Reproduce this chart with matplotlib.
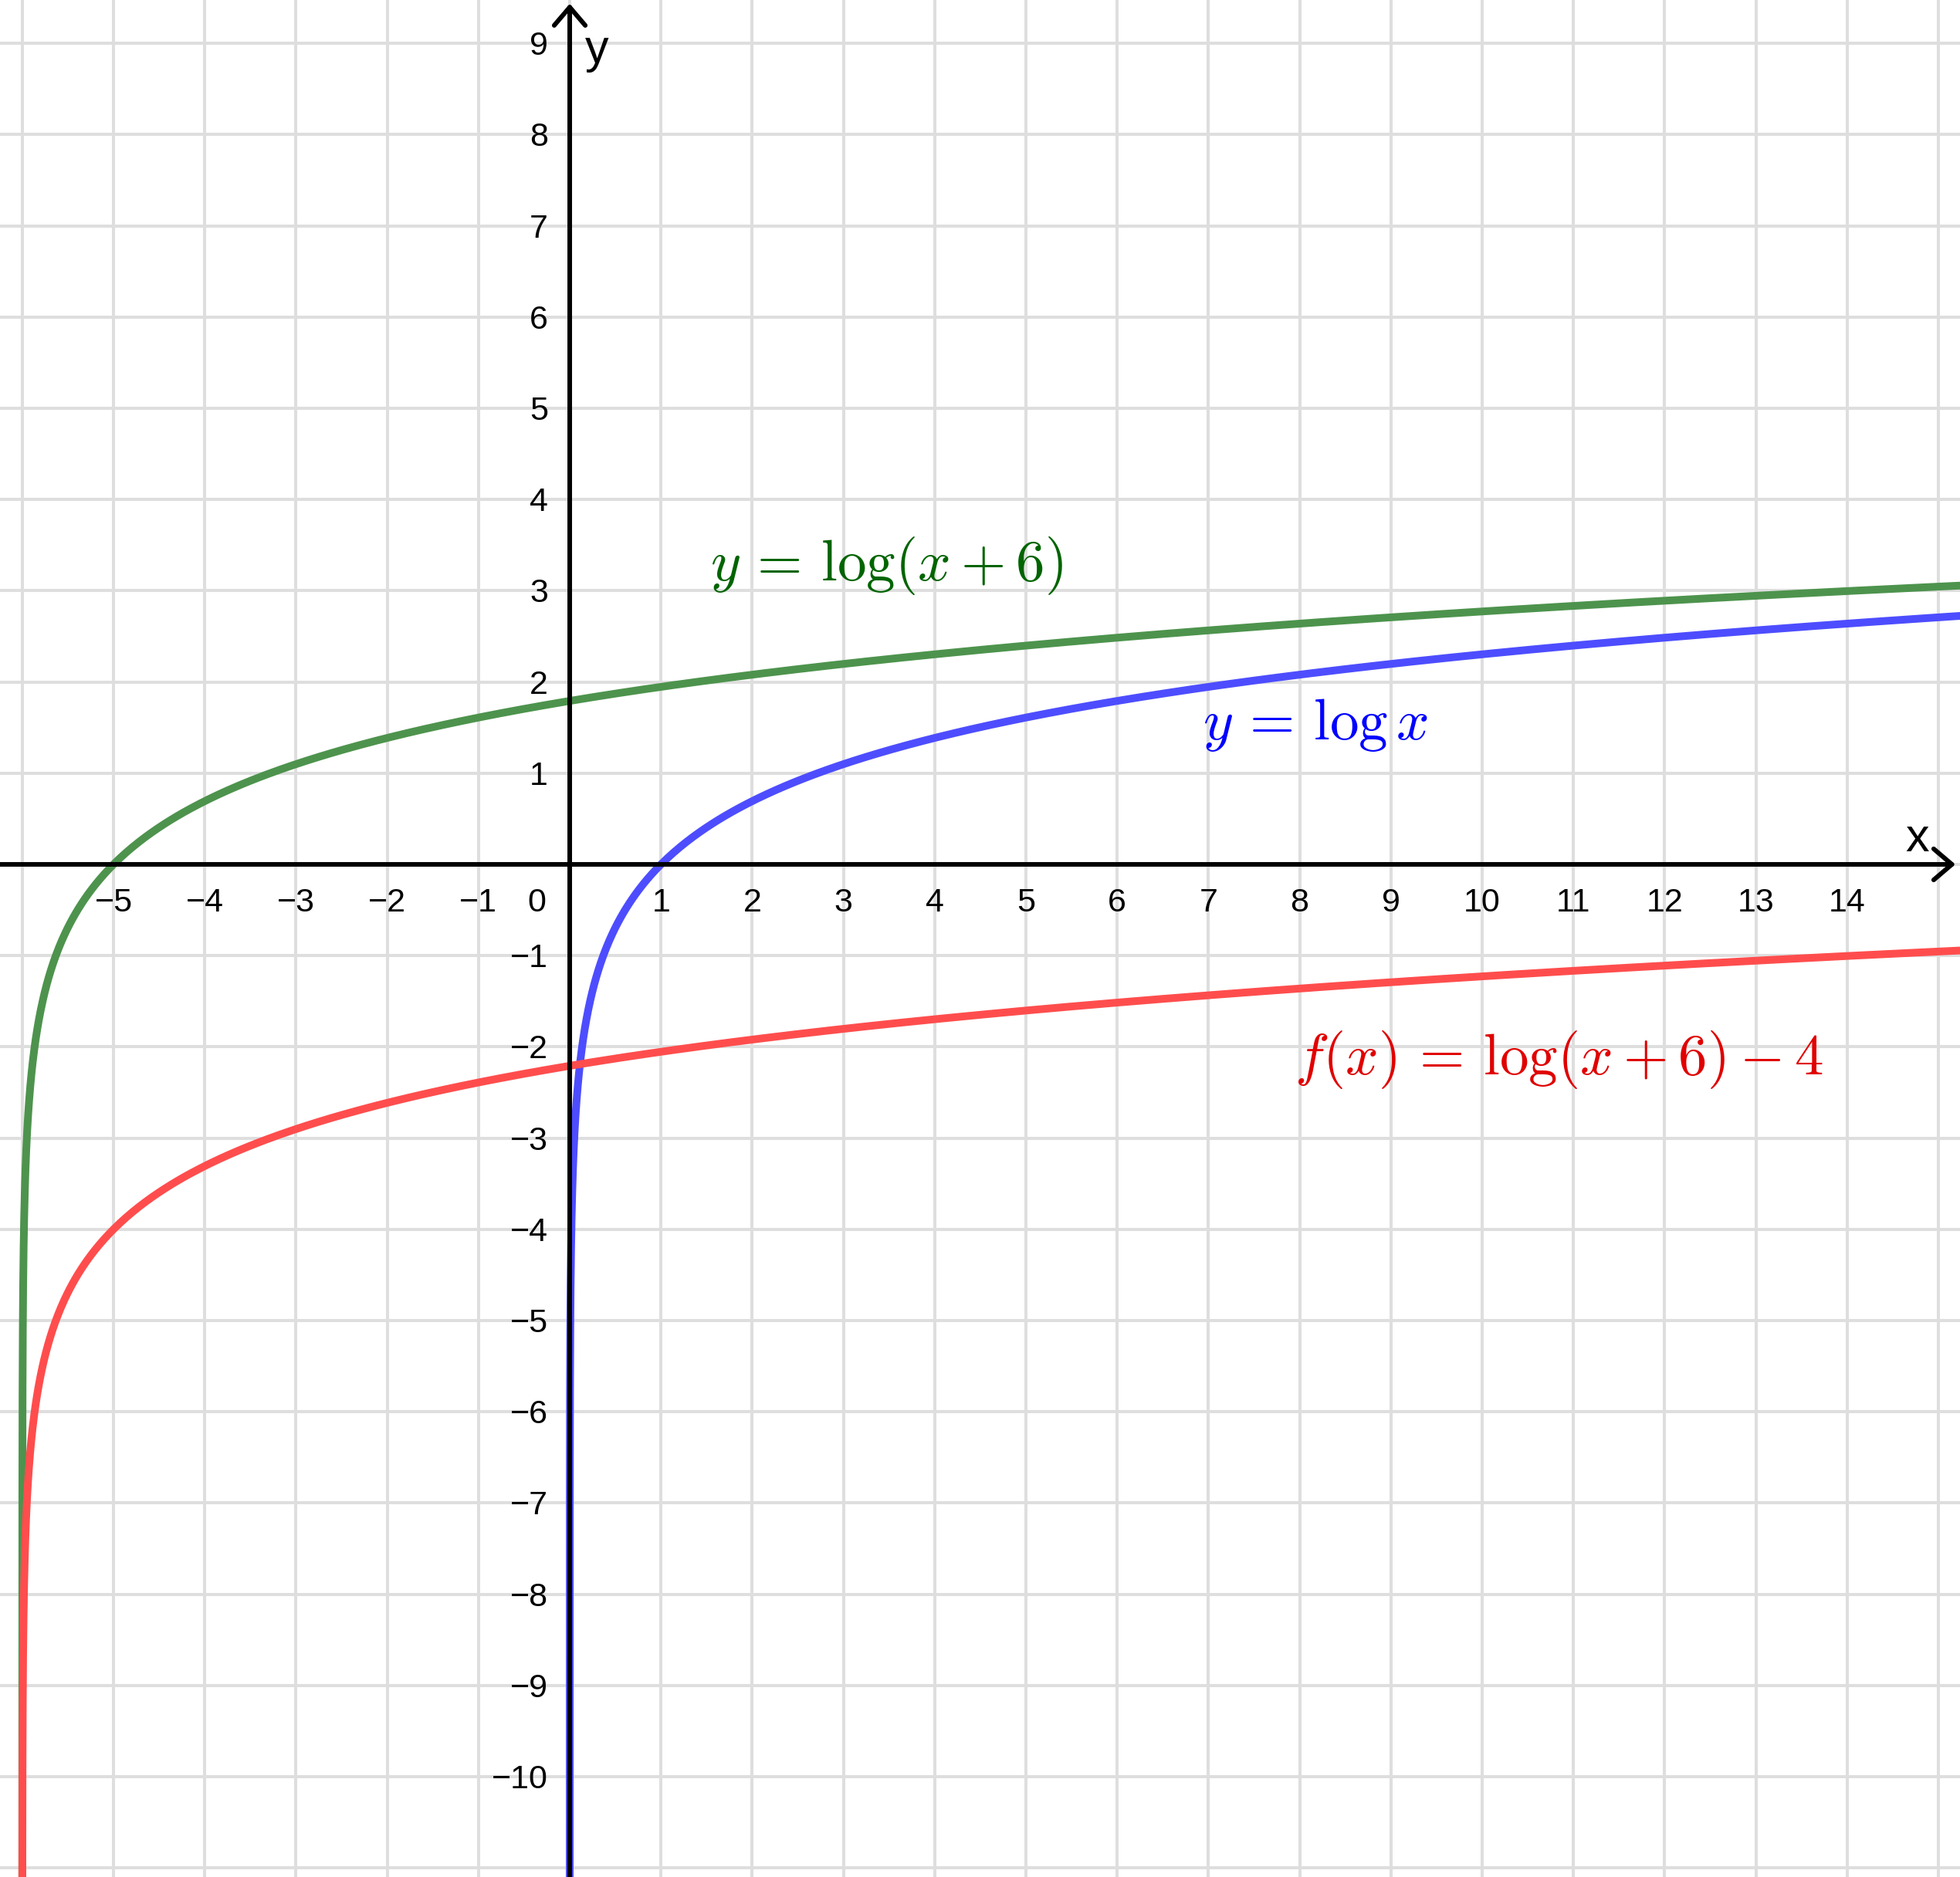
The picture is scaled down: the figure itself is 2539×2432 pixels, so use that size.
import numpy as np
import matplotlib.pyplot as plt

plt.rcParams['font.family'] = ['Liberation Sans', 'DejaVu Sans']
plt.rcParams['mathtext.fontset'] = 'cm'

# chart values: the three curves y = log x, y = log(x + 6), f(x) = log(x + 6) - 4
shift = 6
drop = -4
x_ticks = [-5, -4, -3, -2, -1, 1, 2, 3, 4, 5, 6, 7, 8, 9, 10, 11, 12, 13, 14]
y_ticks = [9, 8, 7, 6, 5, 4, 3, 2, 1, -1, -2, -3, -4, -5, -6, -7, -8, -9, -10]
labels = {
    'green': r'$y\,=\,\log(x + 6)$',
    'blue': r'$y\,=\,\log x$',
    'red': r'$f(x)\,=\,\log(x + 6) - 4$',
}

x_min, x_max = -6.244, 15.237
y_min, y_max = -11.10, 9.475

fig = plt.figure(figsize=(25.39, 24.32), dpi=100)
ax = fig.add_axes([0, 0, 1, 1])
ax.set_xlim(x_min, x_max)
ax.set_ylim(y_min, y_max)
for s in ax.spines.values():
    s.set_visible(False)

# grid
ax.set_xticks(np.arange(-6, 16))
ax.set_yticks(np.arange(-11, 10))
ax.tick_params(length=0, labelbottom=False, labelleft=False)
ax.grid(True, color='#dedede', lw=2.9, zorder=0)

# curves
t = np.concatenate([np.geomspace(1e-7, 1, 600), np.linspace(1, 22, 600)[1:]])
xb = t
xg = t - shift
ax.plot(xb, np.log(xb), color='#4d4dff', lw=7.2, zorder=3, solid_capstyle='butt')
ax.plot(xg, np.log(xg + shift), color='#4d934d', lw=7.2, zorder=3, solid_capstyle='butt')
ax.plot(xg, np.log(xg + shift) + drop, color='#ff4d4d', lw=7.2, zorder=3, solid_capstyle='butt')

# axes with open arrow heads
arrow = dict(arrowstyle='->,head_length=1.7,head_width=1.45', lw=4.3, color='black',
             shrinkA=0, shrinkB=0)
ax.annotate('', xy=(x_max - 0.05, 0), xytext=(x_min - 0.1, 0), arrowprops=arrow, zorder=4)
ax.annotate('', xy=(0, y_max - 0.04), xytext=(0, y_min - 0.1), arrowprops=arrow, zorder=4)
ax.annotate('x', xy=(x_max, 0), xytext=(-55, 32), textcoords='offset pixels',
            fontsize=44, ha='center', va='center')
ax.annotate('y', xy=(0, y_max), xytext=(35, -66), textcoords='offset pixels',
            fontsize=44, ha='center', va='center')

# tick labels
for v in x_ticks:
    ax.annotate(f'{v}'.replace('-', '\u2212'), xy=(v, 0), xytext=(0, -50),
                textcoords='offset pixels', fontsize=31, ha='center', va='center')
ax.annotate('0', xy=(0, 0), xytext=(-43, -50), textcoords='offset pixels',
            fontsize=31, ha='center', va='center')
for v in y_ticks:
    ax.annotate(f'{v}'.replace('-', '\u2212'), xy=(0, v), xytext=(-28, -4),
                textcoords='offset pixels', fontsize=31, ha='right', va='center')

# curve labels
ax.text(1.54, 3.27, labels['green'], color='#006400', fontsize=54, ha='left', va='center')
ax.text(6.94, 1.53, labels['blue'], color='#0000ff', fontsize=54, ha='left', va='center')
ax.text(7.94, -2.14, labels['red'], color='#e00000', fontsize=54, ha='left', va='center')

fig.savefig('out.png', dpi=100)
